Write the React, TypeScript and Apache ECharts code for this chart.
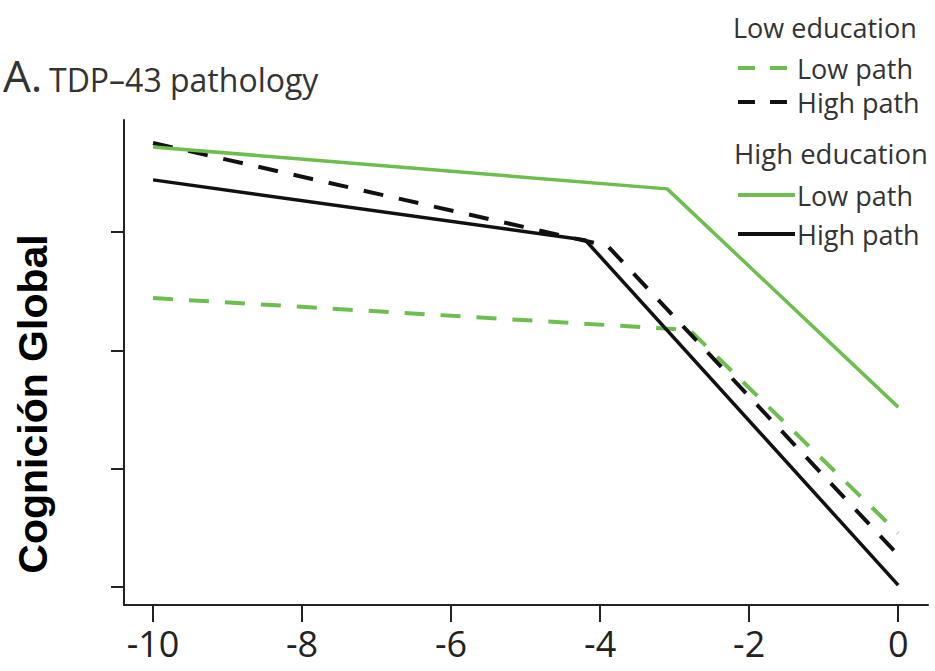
import React, { useEffect, useRef } from "react";
import * as echarts from "echarts";

const xTicks = [-10, -8, -6, -4, -2, 0];
const yTicks = [0, -0.5, -1, -1.5];

const lowEduLowPath: [number, number][] = [[-10, -0.279], [-2.8, -0.414], [0, -1.272]];
const lowEduHighPath: [number, number][] = [[-10, 0.376], [-3.9, -0.059], [0, -1.365]];
const highEduLowPath: [number, number][] = [[-10, 0.359], [-3.1, 0.182], [0, -0.74]];
const highEduHighPath: [number, number][] = [[-10, 0.22], [-4.2, -0.034], [0, -1.492]];

const GREEN = "#6cbf4e";
const BLACK = "#111111";
const FONT = "Open Sans";

export default function App() {
  const ref = useRef<HTMLDivElement>(null);
  useEffect(() => {
    if (!ref.current) return;
    const chart = echarts.init(ref.current, undefined, { renderer: "svg" });
    const legendItems = [
      { y: 68, color: GREEN, dashed: true, label: "Low path" },
      { y: 102, color: BLACK, dashed: true, label: "High path" },
      { y: 195, color: GREEN, dashed: false, label: "Low path" },
      { y: 234, color: BLACK, dashed: false, label: "High path" },
    ];
    const graphics: any[] = [
      {
        type: "text", x: 3, y: 75,
        style: { text: "A.", font: `44px "${FONT}"`, fill: "#333", verticalAlign: "middle" },
      },
      {
        type: "text", x: 49, y: 79,
        style: { text: "TDP\u201343 pathology", font: `32px "${FONT}"`, fill: "#333", verticalAlign: "middle" },
      },
      {
        type: "text", x: 33, y: 404, rotation: Math.PI / 2,
        style: { text: "Cognición Global", font: `bold 41px "Liberation Sans"`, fill: "#000", align: "center", verticalAlign: "middle" },
      },
      {
        type: "text", x: 733, y: 27,
        style: { text: "Low education", font: `27px "${FONT}"`, fill: "#333", verticalAlign: "middle" },
      },
      {
        type: "text", x: 734, y: 153,
        style: { text: "High education", font: `27.5px "${FONT}"`, fill: "#333", verticalAlign: "middle" },
      },
    ];
    legendItems.forEach((it) => {
      graphics.push({
        type: "line",
        shape: { x1: 738, y1: it.y, x2: 795, y2: it.y },
        style: { stroke: it.color, lineWidth: 4, lineDash: it.dashed ? [17, 15] : null },
      });
      graphics.push({
        type: "text", x: 797, y: it.y,
        style: { text: it.label, font: `27px "${FONT}"`, fill: "#333", verticalAlign: "middle" },
      });
    });

    const mk = (name: string, data: [number, number][], color: string, dashed: boolean) => ({
      name,
      type: "line",
      data,
      symbol: "none",
      silent: true,
      lineStyle: { color, width: dashed ? 4 : 3.5, type: dashed ? [20, 16] : "solid" },
    });

    chart.setOption({
      animation: false,
      grid: { left: 124, right: 7, top: 120, bottom: 66 },
      xAxis: {
        type: "value",
        min: -10.39,
        max: 0.4,
        splitLine: { show: false },
        axisLine: { onZero: false, lineStyle: { color: "#222", width: 2 } },
        axisTick: { customValues: xTicks, length: 17, lineStyle: { color: "#222", width: 2 } },
        axisLabel: {
          customValues: xTicks,
          margin: 20,
          fontSize: 36,
          fontFamily: FONT,
          color: "#222",
          formatter: (v: number) => (v < 0 ? "-" + Math.abs(v) : String(v)),
        },
      },
      yAxis: {
        type: "value",
        min: -1.576,
        max: 0.473,
        splitLine: { show: false },
        axisLine: { onZero: false, lineStyle: { color: "#222", width: 2 } },
        axisTick: { customValues: yTicks, length: 13, lineStyle: { color: "#222", width: 2 } },
        axisLabel: { show: false },
      },
      graphic: graphics,
      series: [
        mk("Low education – Low path", lowEduLowPath, GREEN, true),
        mk("Low education – High path", lowEduHighPath, BLACK, true),
        mk("High education – Low path", highEduLowPath, GREEN, false),
        mk("High education – High path", highEduHighPath, BLACK, false),
      ],
    });
    return () => chart.dispose();
  }, []);
  return <div ref={ref} style={{ width: 935, height: 671, position: "absolute", left: 0, top: 0 }} />;
}
